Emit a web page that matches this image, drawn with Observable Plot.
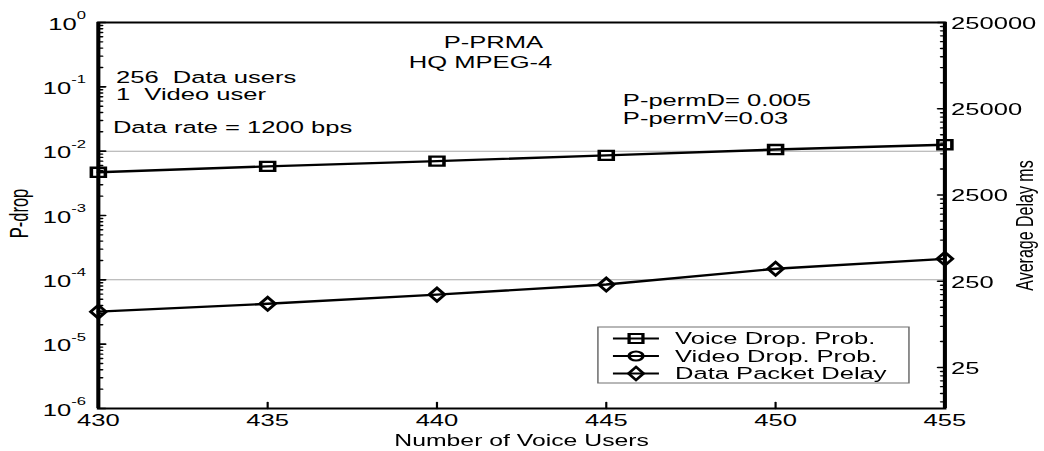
<!DOCTYPE html>
<html>
<head>
<meta charset="utf-8">
<script src="https://cdn.jsdelivr.net/npm/d3@7"></script>
<script src="https://cdn.jsdelivr.net/npm/@observablehq/plot@0.6"></script>
<style>
  html, body { margin: 0; padding: 0; background: #fff; overflow: hidden; }
  /* the figure is drawn narrow and stretched sideways, like the exported original */
  #chart { position: relative; width: 674px; height: 451px; transform: scaleX(1.549); transform-origin: 0 0; }
  #chart svg { position: absolute; left: 0; top: 0; }
</style>
</head>
<body>
<div id="chart"></div>
<script>
// Number of voice users on the x axis
const users = [430, 435, 440, 445, 450, 455];
// Voice packet drop probability (left axis)
const voiceDrop = [0.0047, 0.0058, 0.0070, 0.0086, 0.0106, 0.0126];
// Video packet drop probability: no drops in this range, so nothing lands on the log axis
const videoDrop = [0, 0, 0, 0, 0, 0];
// Average data packet delay in ms (right axis)
const dataDelay = [111, 137, 175, 229, 349, 455];

const xTicks = [430, 435, 440, 445, 450, 455];
const pdropExponents = [0, -1, -2, -3, -4, -5, -6];
const delayTicks = [25, 250, 2500, 25000, 250000];
const seriesNames = ["Voice Drop. Prob.", "Video Drop. Prob.", "Data Packet Delay"];

const W = 674, H = 451;
const margins = {marginTop: 22, marginBottom: 43, marginLeft: 63, marginRight: 64.5};
const font = "'Liberation Sans', Arial, Helvetica, sans-serif";
const fs = 16.5;

const rows = users.map((u, i) => ({users: u, voice: voiceDrop[i], video: videoDrop[i], delay: dataDelay[i]}));
const pdropTicks = pdropExponents.map(k => Math.pow(10, k));

// minor log ticks
const pdropMinor = [];
for (let k = -6; k < 0; k++) for (let m = 2; m <= 9; m++) pdropMinor.push(m * Math.pow(10, k));
const delayDomain = [8.37, 250000];
const delayMinor = [];
for (let k = -1; k <= 4; k++) for (let m = 2; m <= 9; m++) {
  const v = 25 * m * Math.pow(10, k);
  if (v >= delayDomain[0] && v <= delayDomain[1]) delayMinor.push(v);
}

// straight tick segment for Plot.vector, pointing up before rotation
const tickShape = {draw(ctx, l) { ctx.moveTo(0, 0); ctx.lineTo(0, -l); }};
// wide diamond marker
const diamond = {draw(ctx, size) {
  const r = Math.sqrt(size / Math.PI), w = r * 0.75;
  ctx.moveTo(0, -r); ctx.lineTo(w, 0); ctx.lineTo(0, r); ctx.lineTo(-w, 0); ctx.closePath();
}};

const note = (s, x, y) => Plot.text([s], {x, y, textAnchor: "start", lineAnchor: "middle", fontSize: fs, fill: "black"});

const left = Plot.plot({
  width: W, height: H, ...margins,
  style: {fontFamily: font, fontSize: fs + "px", background: "white", color: "black", overflow: "visible"},
  x: {domain: [430, 455]},
  y: {type: "log", domain: [1e-6, 1]},
  marks: [
    Plot.ruleY([1e-2, 1e-4], {stroke: "#a9a9a9", strokeWidth: 1}),
    Plot.axisX({ticks: xTicks, tickSize: 0, tickPadding: 6, tickFormat: d => String(d), label: null, fontSize: fs}),
    Plot.axisY({ticks: pdropTicks, tickSize: 0, tickPadding: 8, dy: 2, label: null, fontSize: fs,
      tickFormat: d => "10|" + Math.round(Math.log10(d))}),
    Plot.vector(xTicks.slice(1, -1), {x: d => d, y: 1e-6, length: 6, rotate: 0, anchor: "start", shape: tickShape, strokeWidth: 1.4}),
    Plot.vector(pdropTicks, {x: 430, y: d => d, length: 4.5, rotate: 90, anchor: "start", shape: tickShape, strokeWidth: 1.6}),
    Plot.vector(pdropMinor, {x: 430, y: d => d, length: 2.6, rotate: 90, anchor: "start", shape: tickShape, strokeWidth: 1.4}),
    Plot.line(rows, {x: "users", y: "voice", stroke: "black", strokeWidth: 2.4}),
    Plot.dot(rows, {x: "users", y: "voice", symbol: "square", r: 5.1, fill: "none", stroke: "black", strokeWidth: 2.3}),
    Plot.line(rows, {x: "users", y: "video", stroke: "black", strokeWidth: 2.4}),
    Plot.dot(rows, {x: "users", y: "video", symbol: "circle", r: 4.5, fill: "none", stroke: "black", strokeWidth: 2.3}),
    Plot.frame({stroke: "black", strokeWidth: 2}),
    Plot.ruleX([430, 455], {stroke: "black", strokeWidth: 2.6}),
    note("P-PRMA", 440.2, 0.489),
    note("HQ MPEG-4", 439.17, 0.239),
    note("256  Data users", 430.52, 0.1396),
    note("1  Video user", 430.52, 0.076),
    note("Data rate = 1200 bps", 430.43, 0.0233),
    note("P-permD= 0.005", 445.49, 0.0615),
    note("P-permV=0.03", 445.49, 0.0325),
    Plot.text(["P-drop"], {frameAnchor: "left", dx: -50.5, dy: -2, rotate: -90, textAnchor: "middle", lineAnchor: "middle", fontSize: 16.5, fill: "black"}),
    Plot.text(["Number of Voice Users"], {frameAnchor: "bottom", dy: 32, textAnchor: "middle", lineAnchor: "middle", fontSize: 16, fill: "black"})
  ]
});

// superscript exponents on the P-drop tick labels
d3.select(left).selectAll('g[aria-label="y-axis tick label"] text').each(function () {
  const [b, e] = this.textContent.split("|");
  const t = d3.select(this);
  t.text(null);
  t.append("tspan").text(b);
  t.append("tspan").attr("font-size", "0.65em").attr("dy", "-1em").text(e);
});

// legend box
const lg = d3.select(left).append("g").attr("font-family", font).attr("font-size", fs).attr("text-anchor", "start");
lg.append("rect").attr("x", 386).attr("y", 327).attr("width", 200.8).attr("height", 56)
  .attr("fill", "white").attr("stroke", "#707070").attr("stroke-width", 1);
const legendSymbols = [d3.symbolSquare, d3.symbolCircle, diamond];
const legendSizes = [80, 64, 133];
seriesNames.forEach((name, i) => {
  const y = 338.5 + i * 17.5;
  lg.append("line").attr("x1", 395.7).attr("x2", 425.4).attr("y1", y).attr("y2", y)
    .attr("stroke", "black").attr("stroke-width", 2.2);
  lg.append("path").attr("transform", `translate(410.6,${y})`)
    .attr("d", d3.symbol().type(legendSymbols[i]).size(legendSizes[i]))
    .attr("fill", "none").attr("stroke", "black").attr("stroke-width", 2.1);
  lg.append("text").attr("x", 435.8).attr("y", y).attr("dy", "0.35em").attr("fill", "black").text(name);
});

const right = Plot.plot({
  width: W, height: H, ...margins,
  style: {fontFamily: font, fontSize: fs + "px", background: "transparent", color: "black", overflow: "visible"},
  x: {domain: [430, 455], axis: null},
  y: {type: "log", domain: delayDomain},
  marks: [
    Plot.axisY({anchor: "right", ticks: delayTicks, tickSize: 0, tickPadding: 4, dy: 1, label: null, fontSize: fs,
      tickFormat: d => String(d)}),
    Plot.vector(delayTicks, {x: 455, y: d => d, length: 4.5, rotate: -90, anchor: "start", shape: tickShape, strokeWidth: 1.6}),
    Plot.vector(delayMinor, {x: 455, y: d => d, length: 2.6, rotate: -90, anchor: "start", shape: tickShape, strokeWidth: 1.4}),
    Plot.line(rows, {x: "users", y: "delay", stroke: "black", strokeWidth: 2.4}),
    Plot.dot(rows, {x: "users", y: "delay", symbol: diamond, r: 6.6, fill: "none", stroke: "black", strokeWidth: 2.3}),
    Plot.text(["Average Delay ms"], {frameAnchor: "right", dx: 52, dy: 10, rotate: -90, textAnchor: "middle", lineAnchor: "middle", fontSize: 16, fill: "black"})
  ]
});

document.getElementById("chart").append(left, right);
</script>
</body>
</html>
